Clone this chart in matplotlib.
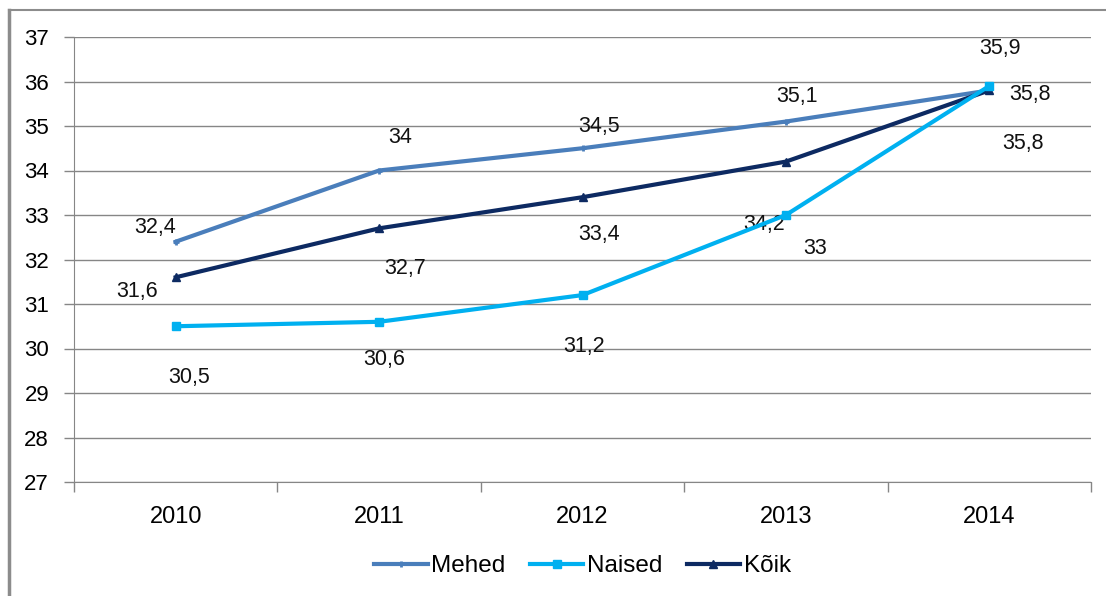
import matplotlib
matplotlib.use("Agg")
import matplotlib.pyplot as plt
from matplotlib.lines import Line2D

years = ["2010", "2011", "2012", "2013", "2014"]
mehed = [32.4, 34.0, 34.5, 35.1, 35.8]
naised = [30.5, 30.6, 31.2, 33.0, 35.9]
koik = [31.6, 32.7, 33.4, 34.2, 35.8]

# label offsets in points (Excel put them oddly)
mehed_off = [(-15, 10), (15, 24), (12, 16), (8, 18), (24, -38)]
naised_off = [(10, -37), (4, -27), (1, -37), (21, -24), (8, 27)]
koik_off = [(-28, -10), (19, -29), (12, -27), (-16, -45), (29, -3)]

plt.rcParams['font.family'] = ['Liberation Sans', 'DejaVu Sans']

fig = plt.figure(figsize=(11.06, 5.96), dpi=100)
ax = fig.add_axes([74 / 1106, 1 - 482 / 596, (1091 - 74) / 1106, (482 - 37) / 596])

x = list(range(len(years)))
ax.plot(x, mehed, color="#4A7EBB", lw=3, marker="+", ms=5, mew=2, label="Mehed", zorder=3)
ax.plot(x, naised, color="#00B0F0", lw=3, marker="s", ms=6, label="Naised", zorder=4)
ax.plot(x, koik, color="#0D2A62", lw=3, marker="^", ms=6, label="Kõik", zorder=3)

def fmt(v):
    s = ("%.1f" % v).rstrip("0").rstrip(".")
    return s.replace(".", ",")

for vals, offs in [(mehed, mehed_off), (naised, naised_off), (koik, koik_off)]:
    for i, v in enumerate(vals):
        ax.annotate(fmt(v), (i, v), xytext=offs[i], textcoords="offset points",
                    ha="center", va="center", fontsize=15.5, color="#111111")

ax.set_xlim(-0.5, 4.5)
ax.set_ylim(27, 37)
ax.set_yticks(range(27, 38))
ax.set_xticks(x)
ax.set_xticklabels(years)
ax.set_xticks([i - 0.5 for i in range(6)], minor=True)
ax.tick_params(axis="x", which="major", length=0, pad=17, labelsize=17)
ax.tick_params(axis="x", which="minor", length=7, color="#868686", width=1)
ax.tick_params(axis="y", length=7, color="#868686", width=1, labelsize=16, pad=11)
ax.yaxis.grid(True, color="#868686", lw=1)
ax.set_axisbelow(True)
for s in ["top", "right"]:
    ax.spines[s].set_visible(False)
ax.spines["left"].set_color("#868686")
ax.spines["bottom"].set_color("#868686")

ax.legend(loc="center", bbox_to_anchor=(0.5, -0.189), ncol=3, frameon=False,
          fontsize=17.5, handlelength=2.2, columnspacing=1.0, handletextpad=0.15)

# chart border, cut off at right and bottom
fig.add_artist(Line2D([9 / 1106, 9 / 1106], [0, 1 - 10 / 596], transform=fig.transFigure,
                      color="#8C8C8C", lw=2.5))
fig.add_artist(Line2D([9 / 1106, 1], [1 - 10 / 596, 1 - 10 / 596], transform=fig.transFigure,
                      color="#8C8C8C", lw=1.5))

fig.savefig("out.png", dpi=100)
